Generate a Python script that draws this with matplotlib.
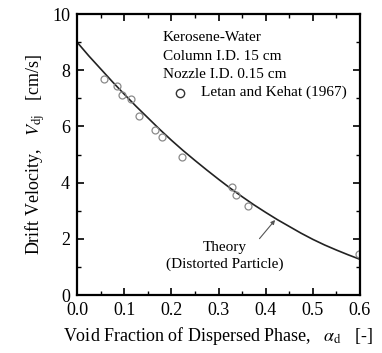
import numpy as np
import matplotlib
matplotlib.use("Agg")
import matplotlib.pyplot as plt

plt.rcParams['font.family'] = ['Liberation Serif', 'DejaVu Serif']
plt.rcParams['mathtext.fontset'] = 'stix'

# Letan and Kehat (1967) data
alpha_exp = [0.058, 0.084, 0.095, 0.114, 0.131, 0.166, 0.181, 0.223, 0.328, 0.337, 0.363, 0.598]
vdj_exp = [7.69, 7.44, 7.12, 6.99, 6.37, 5.87, 5.61, 4.91, 3.85, 3.56, 3.18, 1.45]

# theory curve (distorted particle)
alpha_th = [0.0, 0.025, 0.05, 0.075, 0.10, 0.125, 0.15, 0.175, 0.20, 0.225, 0.25, 0.275,
            0.30, 0.325, 0.35, 0.375, 0.40, 0.425, 0.45, 0.475, 0.50, 0.525, 0.55, 0.575, 0.60]
vdj_th = [9.00, 8.51, 8.05, 7.59, 7.15, 6.72, 6.31, 5.90, 5.51, 5.14, 4.79, 4.45,
          4.12, 3.80, 3.50, 3.21, 2.94, 2.68, 2.44, 2.20, 1.98, 1.78, 1.60, 1.43, 1.27]

fig = plt.figure(figsize=(3.82, 3.53), dpi=100)
ax = fig.add_axes([0.2016, 0.1643, 0.7408, 0.796])

ax.plot(alpha_th, vdj_th, color='#222222', lw=1.2)
ax.plot(alpha_exp, vdj_exp, 'o', mfc='none', mec='#8a8a8a', ms=5, mew=0.9)

ax.set_xlim(0, 0.6)
ax.set_ylim(0, 10)
ax.set_xticks(np.arange(0, 0.61, 0.1))
ax.set_xticklabels(['0.0', '0.1', '0.2', '0.3', '0.4', '0.5', '0.6'])
ax.set_yticks([0, 2, 4, 6, 8, 10])
ax.set_xticks(np.arange(0.05, 0.6, 0.1), minor=True)
ax.set_yticks([1, 3, 5, 7, 9], minor=True)
ax.tick_params(which='both', direction='in', top=True, right=True,
               labelsize=13, colors='black', pad=5)
ax.tick_params(which='major', length=5, width=1.2)
ax.tick_params(which='minor', length=3, width=1.0)
for s in ax.spines.values():
    s.set_linewidth(1.6)

ax.set_xlabel(r'Void Fraction of Dispersed Phase,   $\alpha_{\rm d}$   [-]', fontsize=13, labelpad=4)
ax.set_ylabel(r'Drift Velocity,   $V_{\rm dj}$   [cm/s]', fontsize=13, labelpad=4)

# text block
fs = 11
ax.text(0.182, 9.15, 'Kerosene-Water', fontsize=fs, va='center')
ax.text(0.182, 8.5, 'Column I.D. 15 cm', fontsize=fs, va='center')
ax.text(0.182, 7.85, 'Nozzle I.D. 0.15 cm', fontsize=fs, va='center')
ax.plot([0.219], [7.2], 'o', mfc='none', mec='#333333', ms=6, mew=1.0)
ax.text(0.262, 7.2, 'Letan and Kehat (1967)', fontsize=fs, va='center')

ax.annotate('Theory\n(Distorted Particle)', xy=(0.42, 2.67), xytext=(0.314, 1.38),
            fontsize=fs, ha='center', va='center', linespacing=1.3,
            arrowprops=dict(arrowstyle='-|>', color='#555555', lw=0.8,
                            mutation_scale=6, shrinkA=0, shrinkB=0,
                            relpos=(0.72, 0.75)))

fig.savefig('out.png', dpi=100)
